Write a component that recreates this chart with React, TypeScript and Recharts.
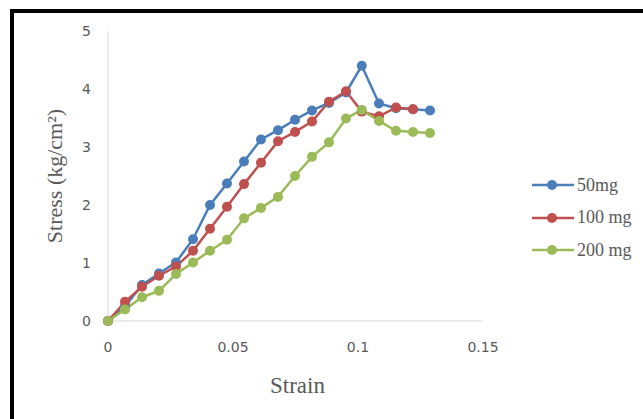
import React from 'react';
import { LineChart, Line, XAxis, YAxis, Legend, Label } from 'recharts';

const strain = [0, 0.0068, 0.0136, 0.0204, 0.0272, 0.034, 0.0408, 0.0476, 0.0544, 0.0612, 0.068, 0.0748, 0.0816, 0.0884, 0.0952, 0.1015, 0.1084, 0.1152, 0.122, 0.1288];
const stress50 = [0, 0.25, 0.62, 0.82, 1.01, 1.41, 2.0, 2.37, 2.75, 3.13, 3.29, 3.47, 3.63, 3.76, 3.94, 4.4, 3.75, 3.67, 3.65, 3.63];
const stress100 = [0, 0.33, 0.59, 0.78, 0.94, 1.21, 1.59, 1.97, 2.36, 2.73, 3.1, 3.26, 3.44, 3.78, 3.96, 3.61, 3.53, 3.68, 3.65];
const stress200 = [0, 0.2, 0.41, 0.52, 0.81, 1.01, 1.21, 1.4, 1.77, 1.95, 2.14, 2.5, 2.83, 3.08, 3.49, 3.64, 3.45, 3.28, 3.26, 3.24];

const xTicks = [0, 0.05, 0.1, 0.15];
const yTicks = [0, 1, 2, 3, 4, 5];

const series = [
  { key: 's50', name: '50mg', color: '#4a7ebb' },
  { key: 's100', name: '100 mg', color: '#c0504d' },
  { key: 's200', name: '200 mg', color: '#9bbb59' },
];

const data = strain.map((x, i) => ({
  x,
  s50: stress50[i] ?? null,
  s100: stress100[i] ?? null,
  s200: stress200[i] ?? null,
}));

const SERIF = '"Liberation Serif", "DejaVu Serif", serif';
const SANS = '"DejaVu Sans", sans-serif';
const GREY = '#595959';

const LegendBox = () => (
  <div style={{ fontFamily: SERIF, fontSize: 18, color: GREY }}>
    {series.map((s) => (
      <div key={s.key} style={{ display: 'flex', alignItems: 'center', height: 32.5 }}>
        <svg width={42} height={12} style={{ marginRight: 3 }}>
          <line x1={0} y1={6} x2={42} y2={6} stroke={s.color} strokeWidth={2.5} />
          <circle cx={20} cy={6} r={5} fill={s.color} />
        </svg>
        <span>{s.name}</span>
      </div>
    ))}
  </div>
);

export default function App() {
  return (
    <div style={{ position: 'absolute', left: 0, top: 0, width: 643, height: 419, overflow: 'hidden', background: '#fff' }}>
      <div style={{ position: 'absolute', left: 10, top: 9, width: 700, height: 500, border: '4px solid #000', boxSizing: 'border-box' }} />
      <div style={{ position: 'absolute', left: 0, top: 0 }}>
        <LineChart width={643} height={419} data={data} margin={{ top: 31, right: 160, bottom: 38, left: 48 }}>
          <XAxis
            dataKey="x"
            type="number"
            domain={[0, 0.15]}
            ticks={xTicks}
            tickFormatter={(v: number) => String(v)}
            stroke="#d9d9d9"
            tickLine={false}
            tickSize={0}
            tickMargin={21}
            height={60}
            tick={{ fill: GREY, fontSize: 14, fontFamily: SANS }}
          >
            <Label value="Strain" position="bottom" offset={-4} dx={2} style={{ fill: GREY, fontSize: 23, fontFamily: SERIF }} />
          </XAxis>
          <YAxis
            type="number"
            domain={[0, 5]}
            ticks={yTicks}
            stroke="#d9d9d9"
            tickLine={false}
            tickSize={0}
            tickMargin={17}
            width={60}
            tick={{ fill: GREY, fontSize: 14, fontFamily: SANS }}
          >
            <Label value="Stress (kg/cm²)" angle={-90} position="insideLeft" offset={6} style={{ fill: GREY, fontSize: 22, fontFamily: SERIF, textAnchor: 'middle' }} />
          </YAxis>
          <Legend layout="horizontal" align="center" verticalAlign="middle" content={<LegendBox />} wrapperStyle={{ position: 'absolute', left: 532, top: 169, width: 110 }} />
          {series.map((s) => (
            <Line
              key={s.key}
              type="linear"
              dataKey={s.key}
              name={s.name}
              stroke={s.color}
              strokeWidth={2.5}
              dot={{ r: 5, fill: s.color, stroke: s.color, strokeWidth: 0 }}
              activeDot={false}
              isAnimationActive={false}
              connectNulls={false}
            />
          ))}
        </LineChart>
      </div>
    </div>
  );
}
